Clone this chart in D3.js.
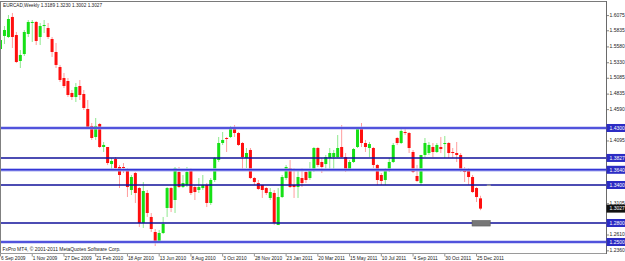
<!DOCTYPE html>
<meta charset="utf-8">
<style>
  body { margin:0; background:#fff; }
  svg { display:block; font-family:"Liberation Sans", Arial, sans-serif; }
</style>
<script src="https://cdn.jsdelivr.net/npm/d3@7"></script>
<body>
<div id="chart"></div>
<script>
var symbol = "EURCAD,Weekly";
var copyright = "FxPro MT4, \u00a9 2001-2011 MetaQuotes Software Corp.";
var firstWeek = "2009-09-06";

// weekly OHLC, one entry per week from firstWeek
var opens = [1.5547,1.5753,1.5737,1.6053,1.5768,1.5358,1.5468,1.5784,1.5958,1.5974,
  1.5737,1.5910,1.5879,1.5705,1.5500,1.5263,1.5089,1.5042,1.4853,1.4789,
  1.4963,1.4837,1.4600,1.4332,1.4158,1.4363,1.4000,1.4000,1.3731,1.3810,
  1.3684,1.3684,1.3652,1.3321,1.3589,1.3352,1.2800,1.3274,1.2895,1.2658,
  1.2500,1.2642,1.3037,1.3352,1.3163,1.3605,1.3368,1.3400,1.3637,1.3368,
  1.3321,1.3352,1.3400,1.3116,1.3479,1.3795,1.4063,1.4142,1.4158,1.4316,
  1.4221,1.4063,1.3826,1.3953,1.3510,1.3431,1.3400,1.3352,1.3195,1.3274,
  1.2768,1.3210,1.3510,1.3668,1.3400,1.3368,1.3510,1.3605,1.3510,1.3637,
  1.3984,1.3763,1.3731,1.3826,1.3842,1.3842,1.4000,1.3842,1.3637,1.3763,
  1.4000,1.4300,1.4063,1.3984,1.3984,1.3716,1.3558,1.3479,1.3637,1.3763,
  1.4142,1.4063,1.4237,1.4221,1.3921,1.3542,1.3431,1.3874,1.3905,1.4000,
  1.3921,1.4000,1.4047,1.4063,1.3921,1.3905,1.3874,1.3637,1.3637,1.3526,
  1.3352,1.3189];
var highs = [1.5847,1.5910,1.6084,1.6116,1.5816,1.5531,1.5847,1.6005,1.6005,1.5989,
  1.5958,1.6005,1.5958,1.5737,1.5642,1.5295,1.5168,1.5089,1.4900,1.5010,
  1.5058,1.4900,1.4742,1.4379,1.4458,1.4379,1.4079,1.4000,1.3826,1.3842,
  1.3716,1.3747,1.3668,1.3558,1.3605,1.3368,1.3447,1.3321,1.2958,1.2705,
  1.2690,1.2895,1.3368,1.3368,1.3684,1.3684,1.3558,1.3684,1.3668,1.3400,
  1.3510,1.3558,1.3431,1.3510,1.3842,1.4158,1.4237,1.4158,1.4332,1.4347,
  1.4237,1.4079,1.3984,1.3984,1.3526,1.3479,1.3400,1.3368,1.3352,1.3321,
  1.3352,1.3558,1.3716,1.3795,1.3668,1.3637,1.3668,1.3637,1.3763,1.4000,
  1.4000,1.3826,1.3874,1.3984,1.3953,1.4189,1.4347,1.3905,1.3795,1.3984,
  1.4316,1.4379,1.4111,1.4079,1.4000,1.3731,1.3589,1.3668,1.3826,1.4063,
  1.4158,1.4284,1.4300,1.4237,1.3953,1.3716,1.3874,1.4142,1.4079,1.4063,
  1.4063,1.4158,1.4174,1.4079,1.3984,1.4079,1.3905,1.3684,1.3668,1.3558,
  1.3368,1.3230];
var lows = [1.5421,1.5626,1.5721,1.5563,1.5326,1.5247,1.5437,1.5737,1.5658,1.5610,
  1.5610,1.5800,1.5705,1.5421,1.5247,1.5026,1.4931,1.4789,1.4742,1.4710,
  1.4742,1.4584,1.4300,1.4111,1.4111,1.3984,1.3921,1.3716,1.3637,1.3637,
  1.3352,1.3589,1.3210,1.3242,1.3116,1.2737,1.2721,1.2895,1.2658,1.2437,
  1.2484,1.2626,1.2895,1.2973,1.2958,1.3352,1.3352,1.3368,1.3242,1.3163,
  1.3274,1.3321,1.3052,1.3084,1.3447,1.3763,1.4032,1.3921,1.4142,1.4158,
  1.4016,1.3637,1.3668,1.3495,1.3400,1.3321,1.3195,1.3242,1.3163,1.2768,
  1.2768,1.3195,1.3479,1.3352,1.3195,1.3195,1.3368,1.3431,1.3479,1.3605,
  1.3684,1.3589,1.3637,1.3637,1.3637,1.3826,1.3826,1.3605,1.3621,1.3747,
  1.3984,1.4000,1.3921,1.3842,1.3668,1.3400,1.3400,1.3400,1.3605,1.3747,
  1.4032,1.4047,1.4189,1.3905,1.3589,1.3447,1.3400,1.3842,1.3874,1.3842,
  1.3905,1.3905,1.3826,1.3826,1.3826,1.3763,1.3605,1.3447,1.3400,1.3274,
  1.3131,1.3002];
var closes = [1.5689,1.5847,1.6021,1.5737,1.5342,1.5453,1.5816,1.5974,1.5974,1.5674,
  1.5910,1.5926,1.5737,1.5500,1.5295,1.5058,1.4963,1.4821,1.4789,1.4947,
  1.4821,1.4616,1.4316,1.4142,1.4332,1.4000,1.4032,1.3747,1.3779,1.3668,
  1.3558,1.3668,1.3368,1.3526,1.3274,1.2800,1.3305,1.2958,1.2705,1.2500,
  1.2642,1.2784,1.3352,1.3037,1.3668,1.3368,1.3431,1.3605,1.3274,1.3289,
  1.3368,1.3400,1.3116,1.3479,1.3826,1.4063,1.4111,1.4126,1.4300,1.4221,
  1.4032,1.3842,1.3905,1.3510,1.3447,1.3337,1.3321,1.3274,1.3289,1.2800,
  1.3210,1.3526,1.3684,1.3368,1.3368,1.3526,1.3431,1.3479,1.3637,1.3984,
  1.3716,1.3684,1.3842,1.3905,1.3905,1.3984,1.3842,1.3637,1.3763,1.3968,
  1.4300,1.4063,1.4000,1.4047,1.3716,1.3479,1.3463,1.3637,1.3763,1.4032,
  1.4063,1.4253,1.4221,1.3984,1.3605,1.3463,1.3874,1.4063,1.4032,1.3921,
  1.4032,1.3968,1.4063,1.3905,1.3905,1.3874,1.3637,1.3605,1.3526,1.3289,
  1.3210,1.3027];

var dateLabels = ["6 Sep 2009","1 Nov 2009","27 Dec 2009","21 Feb 2010","18 Apr 2010",
  "13 Jun 2010","8 Aug 2010","3 Oct 2010","28 Nov 2010","23 Jan 2011","20 Mar 2011",
  "15 May 2011","10 Jul 2011","4 Sep 2011","30 Oct 2011","25 Dec 2011"];
var priceTicks = [1.6075,1.5835,1.5580,1.5330,1.5085,1.4835,1.4590,1.4340,1.4095,
  1.3845,1.3600,1.3350,1.3105,1.2855,1.2610,1.2360];

// horizontal lines drawn on the chart
var levels = [1.4300,1.3827,1.3640,1.3400,1.2800,1.2500];
var darkLevels = [1.3827,1.3400,1.2800];

var width = 625, height = 261;
var plotRight = 606, plotBottom = 253;

var parseIso = d3.utcParse("%Y-%m-%d");
var parseLabel = d3.utcParse("%d %b %Y");
var start = parseIso(firstWeek);
var weeks = opens.map(function(d, i) { return d3.utcWeek.offset(start, i); });

var x = d3.scaleUtc()
  .domain([weeks[0], weeks[weeks.length - 1]])
  .range([0, 480]);
var y = d3.scaleLinear()
  .domain([1.2342, 1.6321])
  .range([252, 0]);
var fmt = d3.format(".4f");

var svg = d3.select("#chart").append("svg")
  .attr("width", width)
  .attr("height", height);

svg.append("rect").attr("width", width).attr("height", height).attr("fill", "#fff");

svg.append("clipPath").attr("id", "plot")
  .append("rect").attr("x", 1).attr("y", 2).attr("width", plotRight - 1).attr("height", plotBottom - 2);

var plot = svg.append("g").attr("clip-path", "url(#plot)");

// candles
var bars = weeks.map(function(d, i) {
  return {date: d, o: opens[i], h: highs[i], l: lows[i], c: closes[i]};
});

plot.selectAll("line.wick")
  .data(bars)
  .enter().append("line")
  .attr("class", "wick")
  .attr("x1", function(d) { return x(d.date) + 0.5; })
  .attr("x2", function(d) { return x(d.date) + 0.5; })
  .attr("y1", function(d) { return y(d.h); })
  .attr("y2", function(d) { return y(d.l); })
  .attr("stroke", function(d) { return d.c >= d.o ? "#8ee88e" : "#ff9d9d"; })
  .attr("stroke-width", 1);

plot.selectAll("rect.body")
  .data(bars)
  .enter().append("rect")
  .attr("class", "body")
  .attr("x", function(d) { return x(d.date) - 1; })
  .attr("width", 3)
  .attr("y", function(d) { return y(Math.max(d.o, d.c)); })
  .attr("height", function(d) { return Math.max(1, Math.abs(y(d.o) - y(d.c))); })
  .attr("fill", function(d) { return d.c >= d.o ? "#16e016" : "#ff0f0f"; });

// levels
levels.forEach(function(v) {
  var dark = darkLevels.indexOf(v) >= 0;
  if (!dark) {
    plot.append("line")
      .attr("x1", 0).attr("x2", plotRight)
      .attr("y1", y(v)).attr("y2", y(v))
      .attr("stroke", "#a9aef0").attr("stroke-width", 3.2);
  }
  plot.append("line")
    .attr("x1", 0).attr("x2", plotRight)
    .attr("y1", y(v)).attr("y2", y(v))
    .attr("stroke", dark ? "#10109a" : "#3535d6")
    .attr("stroke-width", dark ? 1.6 : 1.5);
});

// grey objects near the last bar
plot.append("rect")
  .attr("x", x(parseIso("2011-12-18")))
  .attr("width", x(parseIso("2012-01-19")) - x(parseIso("2011-12-18")))
  .attr("y", y(1.2839))
  .attr("height", y(1.2752) - y(1.2839))
  .attr("fill", "#777").attr("stroke", "#5a5a5a").attr("stroke-width", 0.6);
plot.append("line")
  .attr("x1", x(parseIso("2012-01-13"))).attr("x2", x(parseIso("2012-01-20")))
  .attr("y1", y(1.3400) + 0.3).attr("y2", y(1.3400) + 0.3)
  .attr("stroke", "#999").attr("stroke-width", 1.4);

// frame
svg.append("line").attr("x1", 0.5).attr("x2", 0.5).attr("y1", 1).attr("y2", plotBottom)
  .attr("stroke", "#808080");
svg.append("line").attr("x1", 0).attr("x2", plotRight).attr("y1", 1.5).attr("y2", 1.5)
  .attr("stroke", "#7a7a7a");
svg.append("line").attr("x1", 0).attr("x2", plotRight).attr("y1", plotBottom + 0.5).attr("y2", plotBottom + 0.5)
  .attr("stroke", "#9a9a9a");
svg.append("line").attr("x1", plotRight + 0.5).attr("x2", plotRight + 0.5).attr("y1", 1).attr("y2", plotBottom + 1)
  .attr("stroke", "#6a6a6a");

// price axis; labels sitting under a level box are hidden, as in the terminal
var last = closes[closes.length - 1];
var boxed = levels.concat([last]);
var axis = svg.append("g").attr("font-size", 5).attr("fill", "#222");
priceTicks.forEach(function(v) {
  axis.append("line")
    .attr("x1", plotRight).attr("x2", plotRight + 3)
    .attr("y1", y(v)).attr("y2", y(v))
    .attr("stroke", "#666").attr("stroke-width", 0.8);
  var covered = boxed.some(function(b) { return Math.abs(y(b) - y(v)) < 4.5; });
  if (!covered) {
    axis.append("text")
      .attr("x", plotRight + 3.5).attr("y", y(v) + 1.2)
      .text(fmt(v));
  }
});

levels.forEach(function(v) {
  axis.append("rect")
    .attr("x", plotRight + 0.5).attr("width", width - plotRight)
    .attr("y", y(v) - 4).attr("height", 8)
    .attr("fill", "#2c2cc4");
  axis.append("text")
    .attr("x", plotRight + 3.5).attr("y", y(v) + 1.8)
    .attr("fill", "#fff")
    .text(fmt(v));
});

axis.append("rect")
  .attr("x", plotRight + 0.5).attr("width", width - plotRight)
  .attr("y", y(last) - 4).attr("height", 8)
  .attr("fill", "#111");
axis.append("text")
  .attr("x", plotRight + 3.5).attr("y", y(last) + 1.8)
  .attr("fill", "#fff")
  .text(fmt(last));

// time axis
var timeAxis = svg.append("g").attr("font-size", 4.8).attr("fill", "#222");
dateLabels.forEach(function(s) {
  var px = x(parseLabel(s));
  timeAxis.append("line")
    .attr("x1", px + 0.5).attr("x2", px + 0.5)
    .attr("y1", plotBottom + 1).attr("y2", plotBottom + 3.5)
    .attr("stroke", "#666").attr("stroke-width", 0.7);
  timeAxis.append("text")
    .attr("x", px + 1).attr("y", 259.5)
    .text(s);
});

// header and footer
var n = closes.length - 1;
svg.append("text")
  .attr("x", 3).attr("y", 7.3)
  .attr("font-size", 5).attr("fill", "#222")
  .attr("textLength", 99).attr("lengthAdjust", "spacingAndGlyphs")
  .text(symbol + "  " + [opens[n], highs[n], lows[n], closes[n]].map(fmt).join(" "));
svg.append("text")
  .attr("x", 2.5).attr("y", 250.5)
  .attr("font-size", 5).attr("fill", "#222")
  .attr("textLength", 118).attr("lengthAdjust", "spacingAndGlyphs")
  .text(copyright);
</script>
</body>
